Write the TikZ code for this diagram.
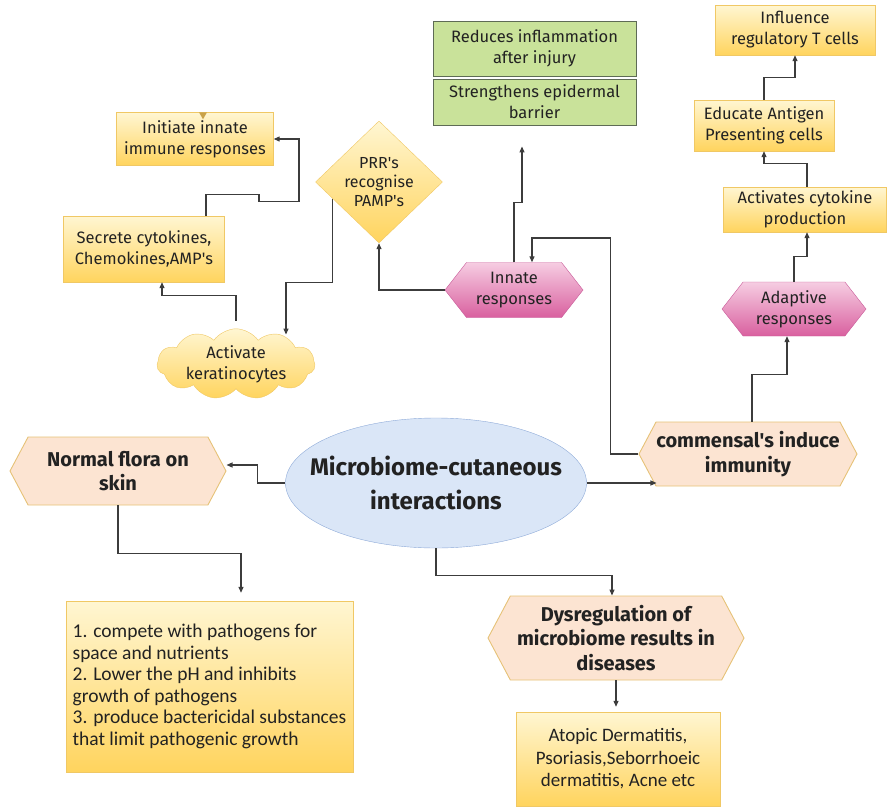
\documentclass[tikz,border=0pt]{standalone}
\usepackage{fontspec}
\setmainfont{Fira Sans}
\newfontfamily\condfont{Carlito}
\usetikzlibrary{shapes.geometric,shapes.symbols,arrows.meta}
\definecolor{ytop}{HTML}{FFF6D2}
\definecolor{ybot}{HTML}{FFD45E}
\definecolor{yline}{HTML}{F0C865}
\definecolor{gfill}{HTML}{C9E29A}
\definecolor{gline}{HTML}{5E6B55}
\definecolor{ptop}{HTML}{F6CDE2}
\definecolor{pbot}{HTML}{D9609F}
\definecolor{pline}{HTML}{C85A98}
\definecolor{peach}{HTML}{FCE4D2}
\definecolor{peachline}{HTML}{E6C277}
\definecolor{efill}{HTML}{DAE6F7}
\definecolor{eline}{HTML}{8EAAD8}
\definecolor{txt}{HTML}{222222}
\definecolor{wire}{HTML}{3C3C3C}
\definecolor{tickcol}{HTML}{C9A24A}
\newcommand{\ap}{\textquotesingle}

\begin{document}
\begin{tikzpicture}[x=1pt,y=-1pt,
    ybox/.style={rectangle, draw=yline, top color=ytop, bottom color=ybot, text=txt,
        align=center, inner sep=2pt, font=\fontsize{16.5}{21}\selectfont},
    gbox/.style={rectangle, draw=gline, fill=gfill, line width=0.9pt, text=txt,
        align=center, inner sep=2pt, font=\fontsize{16.5}{21}\selectfont},
    pinkhex/.style={signal, signal to=west and east, signal pointer angle=104,
        draw=pline, top color=ptop, bottom color=pbot, text=txt, align=center,
        inner sep=1pt, font=\fontsize{16.5}{21}\selectfont},
    peachhex/.style={signal, signal to=west and east, signal pointer angle=124,
        draw=peachline, fill=peach, line width=0.9pt, text=txt, align=center,
        inner sep=0pt, font=\bfseries\fontsize{20}{24.5}\selectfont},
    conn/.style={draw=wire, line width=1.2pt, -{Triangle[length=6pt,width=5pt]}}]
\useasboundingbox (0,0) rectangle (887,809);

\node[ybox, minimum width=157, minimum height=53] (initiate) at (195,139) {Initiate innate\\immune responses};
\fill[tickcol] ([xshift=4pt]initiate.north) -- ++(8,0) -- ++(-4,7) -- cycle;
\node[ybox, minimum width=161, minimum height=66] (secrete) at (144,249) {Secrete cytokines,\\Chemokines,AMP\ap s};
\node[diamond, draw=yline, top color=ytop, bottom color=ybot, text=txt, align=center,
    inner sep=-4pt, minimum width=127, minimum height=122,
    font=\fontsize{16}{19}\selectfont] (prr) at (379,182) {PRR\ap s\\recognise\\PAMP\ap s};
\node[cloud, cloud puffs=11, cloud puff arc=110, aspect=2.3, draw=yline, top color=ytop,
    bottom color=ybot, text=txt, align=center, inner sep=-6pt, minimum width=158,
    minimum height=68, font=\fontsize{16.5}{21}\selectfont] (kerat) at (236,364) {Activate\\keratinocytes};
\node[pinkhex, minimum width=138, minimum height=55] (innate) at (514,290) {Innate\\responses};
\node[gbox, minimum width=203, minimum height=55] (reduce) at (534.5,48.5) {Reduces inflammation\\after injury};
\node[gbox, minimum width=203, minimum height=46] (strength) at (534.5,102) {Strengthens epidermal\\barrier};
\node[ybox, minimum width=160, minimum height=50] (treg) at (795,30) {Influence\\regulatory T cells};
\node[ybox, minimum width=140, minimum height=51] (apc) at (764,125.5) {Educate Antigen\\Presenting cells};
\node[ybox, minimum width=163, minimum height=45] (cyto) at (805,209.5) {Activates cytokine\\production};
\node[pinkhex, minimum width=144, minimum height=54] (adapt) at (794,309) {Adaptive\\responses};
\node[peachhex, minimum width=218, minimum height=64] (commensal) at (748,454) {commensal\ap s induce\\immunity};
\node[ellipse, draw=eline, fill=efill, text=txt, align=center, minimum width=301,
    minimum height=130, inner xsep=-25pt, inner ysep=0pt,
    font=\bfseries\fontsize{24}{34}\selectfont] (micro) at (436,483) {Microbiome-cutaneous\\interactions};
\node[peachhex, minimum width=216, minimum height=68] (flora) at (118,471) {Normal flora on\\skin};
\node[ybox, minimum width=287, minimum height=171, align=left, inner xsep=1pt,
    font=\condfont\fontsize{19.5}{21.5}\selectfont] (compete) at (209.5,686.5)
    {1. compete with pathogens for\\space and nutrients\\2. Lower the pH and inhibits\\growth of pathogens\\3. produce bactericidal substances\\that limit pathogenic growth};
\node[peachhex, minimum width=256, minimum height=84] (dysreg) at (616,638) {Dysregulation of\\microbiome results in\\diseases};
\node[ybox, minimum width=204, minimum height=94, font=\condfont\fontsize{19}{22.5}\selectfont] (atopic) at (618,759)
    {Atopic Dermatitis,\\Psoriasis,Seborrhoeic\\dermatitis, Acne etc};

\draw[conn] (micro.west) -- ++(-28,0) |- ([yshift=6pt]flora.east);
\draw[conn] (micro.east) -- ([xshift=18pt]micro.east -| commensal.west);
\draw[conn] (micro.south) -- ++(0,27) -| ([xshift=-4pt]dysreg.north);
\draw[conn, shorten >=8pt] (flora.south) -- ++(0,48) -| ([xshift=31.5pt]compete.north);
\draw[conn, shorten >=5pt] (dysreg.south) -- (dysreg.south |- atopic.north);
\draw[conn] (commensal.west) -- ++(-28,0) -- ++(0,-216) -| ([xshift=18pt]innate.north);
\draw[conn] ([xshift=4pt]commensal.north) -- ++(0,-47) -| ([xshift=-7pt]adapt.south);
\draw[conn, shorten >=21pt] (innate.north) -- ++(0,-60) -| ([xshift=-12.5pt]strength.south);
\draw[conn] (innate.west) -| (prr.south);
\draw[conn] (prr.200) -- ++(0,84) -| ([xshift=50pt,yshift=-6pt]kerat.north);
\draw[conn, shorten <=8pt] (kerat.north) -- ++(0,-33) -| ([xshift=18pt]secrete.south);
\draw[conn] ([xshift=62pt]secrete.north) -- ++(0,-21) -- ++(53,0) -- ++(0,7) -- ++(40,0) |- (initiate.east);
\draw[conn] (adapt.north) -- ++(0,-25) -| ([xshift=2pt]cyto.south);
\draw[conn] ([xshift=2pt]cyto.north) -- ++(0,-23) -| (apc.south);
\draw[conn] (apc.north) -- ++(0,-22) -| (treg.south);
\end{tikzpicture}
\end{document}
